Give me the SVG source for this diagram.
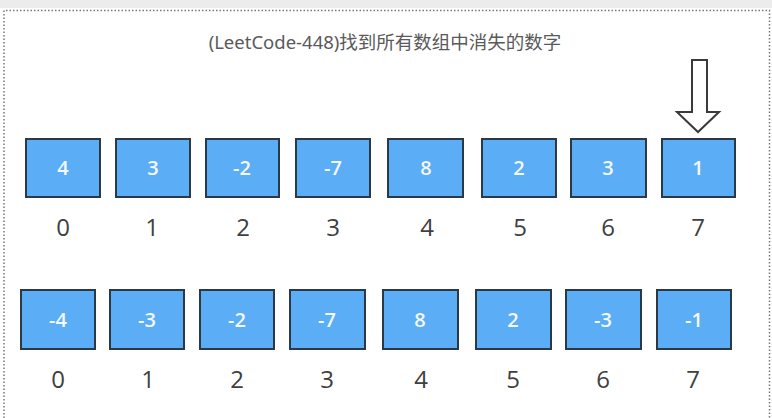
<svg xmlns="http://www.w3.org/2000/svg" width="772" height="418" viewBox="0 0 772 418">
<style>
.box{fill:#5badf6;stroke:#2b3947;stroke-width:2}
.v{font-family:"Open Sans","Noto Sans",sans-serif;font-size:20px;font-weight:600;fill:#f4f8ff;text-anchor:middle}
.i{font-family:"Open Sans","Noto Sans",sans-serif;font-size:24px;fill:#404040;text-anchor:middle}
.t{font-family:"Noto Sans","Noto Sans CJK SC",sans-serif;font-size:18.5px;fill:#5a5a5a;text-anchor:middle}
</style>
<rect x="0" y="0" width="772" height="418" fill="#ffffff"/>
<rect x="0" y="0" width="772" height="8" fill="#ececec"/>
<path d="M4,418 V10.5 H769.5 V418" fill="none" stroke="#777" stroke-width="1.5" stroke-dasharray="1.5,2"/>
<text class="t" x="385" y="49">(LeetCode-448)找到所有数组中消失的数字</text>
<g id="arrow">
<path d="M692,60 H707 V112 H719 L698,132 L677,112 H692 Z" fill="#ffffff" stroke="#3a3a3a" stroke-width="2" stroke-linejoin="miter"/>
</g>
<g id="row1">
<g id="a0"><rect class="box" x="26" y="139" width="74" height="58"/><text class="v" x="63" y="175">4</text><text class="i" x="63" y="236">0</text></g>
<g id="a1"><rect class="box" x="116" y="139" width="74" height="58"/><text class="v" x="153" y="175">3</text><text class="i" x="152" y="236">1</text></g>
<g id="a2"><rect class="box" x="206" y="139" width="73" height="58"/><text class="v" x="242" y="175">-2</text><text class="i" x="243" y="236">2</text></g>
<g id="a3"><rect class="box" x="296" y="139" width="74" height="58"/><text class="v" x="333" y="175">-7</text><text class="i" x="333" y="236">3</text></g>
<g id="a4"><rect class="box" x="388" y="139" width="75" height="58"/><text class="v" x="426" y="175">8</text><text class="i" x="427" y="236">4</text></g>
<g id="a5"><rect class="box" x="482" y="139" width="74" height="58"/><text class="v" x="519" y="175">2</text><text class="i" x="520" y="236">5</text></g>
<g id="a6"><rect class="box" x="571" y="139" width="75" height="58"/><text class="v" x="608" y="175">3</text><text class="i" x="608" y="236">6</text></g>
<g id="a7"><rect class="box" x="662" y="139" width="73" height="58"/><text class="v" x="698" y="175">1</text><text class="i" x="698" y="236">7</text></g>
</g>
<g id="row2">
<g id="b0"><rect class="box" x="21" y="290" width="74" height="59"/><text class="v" x="58" y="327">-4</text><text class="i" x="58" y="388">0</text></g>
<g id="b1"><rect class="box" x="110" y="290" width="74" height="59"/><text class="v" x="147" y="327">-3</text><text class="i" x="148" y="388">1</text></g>
<g id="b2"><rect class="box" x="200" y="290" width="74" height="59"/><text class="v" x="237" y="327">-2</text><text class="i" x="237" y="388">2</text></g>
<g id="b3"><rect class="box" x="290" y="290" width="75" height="59"/><text class="v" x="327" y="327">-7</text><text class="i" x="327" y="388">3</text></g>
<g id="b4"><rect class="box" x="383" y="290" width="75" height="59"/><text class="v" x="420" y="327">8</text><text class="i" x="421" y="388">4</text></g>
<g id="b5"><rect class="box" x="476" y="290" width="75" height="59"/><text class="v" x="513" y="327">2</text><text class="i" x="513" y="388">5</text></g>
<g id="b6"><rect class="box" x="566" y="290" width="75" height="59"/><text class="v" x="603" y="327">-3</text><text class="i" x="603" y="388">6</text></g>
<g id="b7"><rect class="box" x="657" y="290" width="74" height="59"/><text class="v" x="694" y="327">-1</text><text class="i" x="693" y="388">7</text></g>
</g>
</svg>
